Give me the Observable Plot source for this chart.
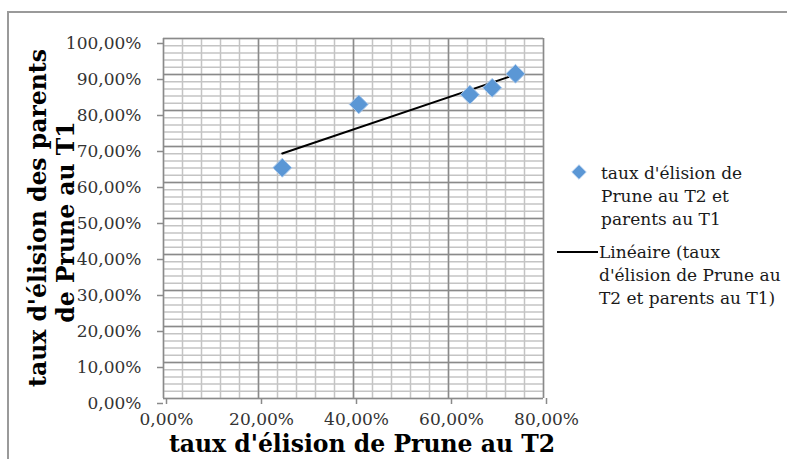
<!DOCTYPE html>
<html>
<head>
<meta charset="utf-8">
<script src="https://cdn.jsdelivr.net/npm/d3@7"></script>
<script src="https://cdn.jsdelivr.net/npm/@observablehq/plot@0.6"></script>
<style>
  html, body { margin: 0; padding: 0; background: #fff; }
  #chart { width: 787px; height: 459px; overflow: hidden; }
</style>
</head>
<body>
<div id="chart"></div>
<script>
// Data (percent values)
const xValues = [25.0, 41.1, 64.5, 69.2, 74.1];   // taux d'élision de Prune au T2
const yValues = [64.1, 81.7, 84.4, 86.3, 90.2];   // taux d'élision des parents au T1
const xTicks = [0, 20, 40, 60, 80];
const yTicks = [0, 10, 20, 30, 40, 50, 60, 70, 80, 90, 100];
const xMinorStep = 4;
const yMinorStep = 2;
const xTitle = "taux d'élision de Prune au T2";
const yTitleLines = ["taux d'élision des parents", "de Prune au T1"];
const legendPointLines = ["taux d'élision de", "Prune au T2 et", "parents au T1"];
const legendLineLines = ["Linéaire (taux", "d'élision de Prune au", "T2 et parents au T1)"];

const points = xValues.map((x, i) => ({x, y: yValues[i]}));
const xMinor = d3.range(0, 80 + 1e-9, xMinorStep);
const yMinor = d3.range(0, 100 + 1e-9, yMinorStep);
const fmt = d => d.toFixed(2).replace(".", ",") + "%";

const FONT = "DejaVu Serif";
const majorColor = "#8a8a8a";
const minorColor = "#c4c4c4";
const dotFill = "#5b97d5";
const dotStroke = "#a8c8ec";

const chart = Plot.plot({
  width: 787,
  height: 459,
  marginLeft: 163,
  marginRight: 244,
  marginTop: 38,
  marginBottom: 61,
  style: {fontFamily: FONT, fontSize: "17px", color: "#333", background: "#fff"},
  x: {domain: [0, 80]},
  y: {domain: [0, 100]},
  marks: [
    Plot.ruleX(xMinor, {stroke: minorColor, strokeWidth: 1.5}),
    Plot.ruleY(yMinor, {stroke: minorColor, strokeWidth: 1.5}),
    Plot.ruleX(xTicks, {stroke: majorColor, strokeWidth: 1.5}),
    Plot.ruleY(yTicks, {stroke: majorColor, strokeWidth: 1.5}),
    Plot.axisX(xTicks, {tickFormat: fmt, tickSize: 6, tickPadding: 8, dx: 3, stroke: majorColor, strokeWidth: 1.5, fill: "#333", label: null}),
    Plot.axisY(yTicks, {tickFormat: fmt, tickSize: 6, tickPadding: 16, dy: 5, stroke: majorColor, strokeWidth: 1.5, fill: "#333", label: null}),
    Plot.linearRegressionY(points, {x: "x", y: "y", stroke: "#000", strokeWidth: 2, ci: 0}),
    Plot.dot(points, {x: "x", y: "y", symbol: "diamond2", r: 8.5, fill: dotFill, stroke: dotStroke, strokeWidth: 1})
  ]
});

document.getElementById("chart").appendChild(chart);

const svg = d3.select(chart);

// Outer chart border
svg.append("rect")
  .attr("x", 8).attr("y", 12).attr("width", 800).attr("height", 500)
  .attr("fill", "none").attr("stroke", "#9a9a9a").attr("stroke-width", 2);

// X title
svg.append("text")
  .attr("x", 362).attr("y", 452)
  .attr("text-anchor", "middle")
  .attr("font-family", FONT).attr("font-weight", "bold").attr("font-size", 23.5)
  .attr("fill", "#000")
  .text(xTitle);

// Y title (two rotated lines)
const yt = svg.append("text")
  .attr("transform", "translate(0,218) rotate(-90)")
  .attr("text-anchor", "middle")
  .attr("font-family", FONT).attr("font-weight", "bold").attr("font-size", 23.5)
  .attr("fill", "#000");
yTitleLines.forEach((t, i) => {
  yt.append("tspan").attr("x", i === 0 ? 0 : -4).attr("y", 46 + i * 28).text(t);
});

// Legend
const lg = svg.append("g")
  .attr("font-family", FONT).attr("font-size", 17).attr("fill", "#1a1a1a")
  .attr("text-anchor", "start");
const dSym = d3.symbol(d3.symbolDiamond2, Math.PI * 6.5 * 6.5)();
lg.append("path").attr("d", dSym).attr("transform", "translate(579,172)")
  .attr("fill", dotFill).attr("stroke", dotStroke).attr("stroke-width", 1);
legendPointLines.forEach((t, i) => {
  lg.append("text").attr("x", 601).attr("y", 179 + i * 23).attr("text-anchor", "start").text(t);
});
lg.append("line").attr("x1", 557).attr("x2", 598).attr("y1", 252).attr("y2", 252)
  .attr("stroke", "#000").attr("stroke-width", 2);
legendLineLines.forEach((t, i) => {
  lg.append("text").attr("x", 599).attr("y", 258 + i * 23).attr("text-anchor", "start").text(t);
});
</script>
</body>
</html>
